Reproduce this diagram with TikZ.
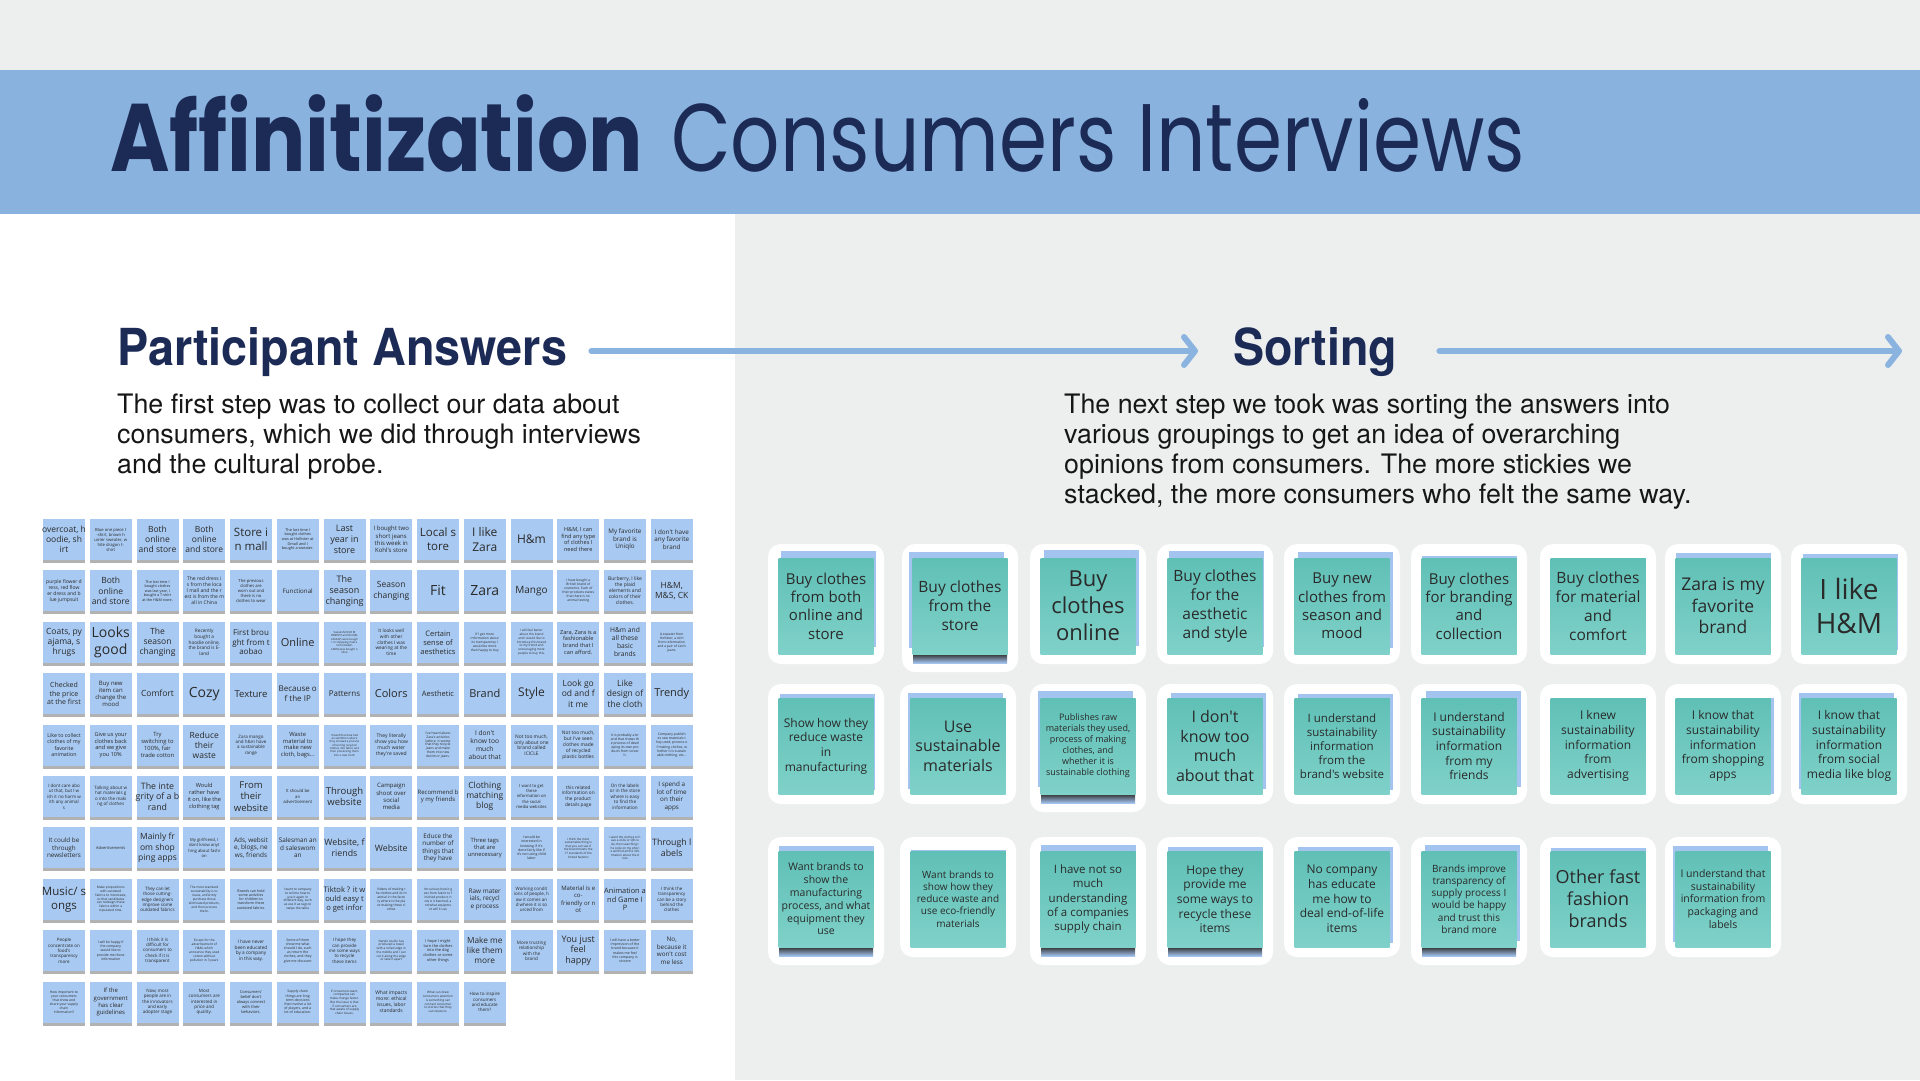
\documentclass[tikz,border=0pt]{standalone}
\usepackage{fontspec}
\usepackage{graphicx}
\usetikzlibrary{arrows.meta,shadows,calc}
\newfontfamily\stickyfont{Open Sans}
\newfontfamily\titlefont{Poppins}
\newfontfamily\headfont{TeX Gyre Heros}
\definecolor{bggray}{HTML}{EDEFEF}
\definecolor{band}{HTML}{8AB2DE}
\definecolor{navy}{HTML}{1C2A56}
\definecolor{arrowblue}{HTML}{8BB3DF}
\definecolor{gridblue}{HTML}{A8C9F1}
\definecolor{behindblue}{HTML}{A4C4F0}
\definecolor{greentop}{HTML}{60C0B6}
\definecolor{greenbot}{HTML}{7FD1C9}
\definecolor{notetext}{HTML}{2A2A2A}
\definecolor{bodytext}{HTML}{161616}
\tikzset{
  gnote/.style={rectangle, fill=gridblue, minimum width=42pt, minimum height=41pt, inner sep=0pt,
    drop shadow={shadow xshift=0pt, shadow yshift=-3pt, opacity=0.3, fill=black}},
  gtext/.style={inner sep=0pt, align=center, text=notetext},
  bnote/.style={rectangle, fill=behindblue, minimum width=95pt, minimum height=96pt, inner sep=0pt},
  snote/.style={rectangle, top color=greentop, bottom color=greenbot, draw=none, minimum width=95pt, minimum height=96pt, inner sep=0pt},
  stext/.style={inner sep=0pt, align=center, text=notetext},
  headline/.style={anchor=base west, inner sep=0pt, text=navy},
  bodyline/.style={anchor=base west, inner sep=0pt, text=bodytext, font=\headfont\fontsize{26.8}{30}\selectfont},
  flowarrow/.style={draw=arrowblue, line width=6pt, line cap=round, line join=round,
    -{Straight Barb[length=11pt, width=28pt, line cap=round, line join=round]}}
}
\newcommand{\gridnote}[4]{%
  \pgfmathsetmacro{\gx}{64+(#1-1)*46.75}%
  \pgfmathsetmacro{\gy}{539.5+(#2-1)*51.4}%
  \node[gnote] (g#2-#1) at (\gx,\gy) {};
  \node[gtext, font=\stickyfont\fontsize{#3}{\fpeval{1.2*#3}}\selectfont] (g#2-#1t) at (g#2-#1.center) {#4};
}
\newcommand{\sortnote}[8]{%
  \fill[white, rounded corners=13pt] ({#2-58},{#3-62}) rectangle ({#2+58},{#3+58+#6*8});
  \node[bnote] (#1b) at ({#2+(#4)},{#3+(#5)}) {};
  \ifnum#6=1 \fill[top color=black!80, bottom color=behindblue] ({#2-47},{#3+48}) rectangle ({#2+47},{#3+57}); \fi
  \node[snote] (#1) at (#2,#3) {};
  \node[stext, font=\stickyfont\fontsize{#7}{\fpeval{1.22*#7}}\selectfont] (#1t) at (#1.center) {#8};
}
\begin{document}
\begin{tikzpicture}[x=1pt, y=-1pt]
\useasboundingbox (0,0) rectangle (1920,1080);
% backgrounds
\fill[bggray] (0,0) rectangle (1920,1080);
\fill[white] (0,214) rectangle (735,1080);
\fill[band] (0,70) rectangle (1920,214);
% title
\node[headline] (t1) at (110,171) {\resizebox{533pt}{\height}{\titlefont\bfseries\fontsize{96}{100}\selectfont Affinitization}};
\node[headline] (t2) at (671,171) {\resizebox{854pt}{\height}{\titlefont\fontsize{96}{100}\selectfont Consumers Interviews}};
% headings
\node[headline] (pa) at (117,365) {\resizebox{450pt}{\height}{\headfont\bfseries\fontsize{51}{55}\selectfont Participant Answers}};
\node[headline] (so) at (1233,365) {\resizebox{164pt}{\height}{\headfont\bfseries\fontsize{51}{55}\selectfont Sorting}};
\coordinate (a1s) at ($(pa.base east)+(24,-14)$);
\coordinate (a1e) at ($(so.base west)+(-35,-14)$);
\coordinate (a2s) at ($(so.base east)+(42,-14)$);
\coordinate (a2e) at (1902,351);
\draw[flowarrow] (a1s) -- (a1e);
\draw[flowarrow] (a2s) -- (a2e);
% body text
\node[bodyline] (pb1) at (117,413) {The first step was to collect our data about};
\node[bodyline] (pb2) at (117,443) {consumers, which we did through interviews};
\node[bodyline] (pb3) at (117,473) {and the cultural probe.};
\node[bodyline] (sb1) at (1064,413) {The next step we took was sorting the answers into};
\node[bodyline] (sb2) at (1064,443) {various groupings to get an idea of overarching};
\node[bodyline] (sb3) at (1064,473) {opinions from consumers. The more stickies we};
\node[bodyline] (sb4) at (1064,503) {stacked, the more consumers who felt the same way.};
% ===== grid of participant answers =====
% row 1
\gridnote{1}{1}{8.5}{overcoat, h\\oodie, sh\\irt}
\gridnote{2}{1}{4.2}{Blue one piece t\\-shirt, brown h\\unter sweater, w\\hite dragon t-\\shirt}
\gridnote{3}{1}{8.5}{Both\\online\\and store}
\gridnote{4}{1}{8.5}{Both\\online\\and store}
\gridnote{5}{1}{11.5}{Store i\\n mall}
\gridnote{6}{1}{3.8}{The last time I\\bought clothes\\was at Hollister at\\Dmall and I\\bought a sweater.}
\gridnote{7}{1}{9}{Last\\year in\\store}
\gridnote{8}{1}{6}{I bought two\\short jeans\\this week in\\Kohl's store}
\gridnote{9}{1}{11.5}{Local s\\tore}
\gridnote{10}{1}{12}{I like\\Zara}
\gridnote{11}{1}{12}{H\&m}
\gridnote{12}{1}{5.6}{H\&M, I can\\find any type\\of clothes I\\need there}
\gridnote{13}{1}{6.3}{My favorite\\brand is\\Uniqlo}
\gridnote{14}{1}{6.3}{I don't have\\any favorite\\brand}
% row 2
\gridnote{1}{2}{5}{purple flower d\\ress, red flow\\er dress and b\\lue jumpsuit}
\gridnote{2}{2}{8.5}{Both\\online\\and store}
\gridnote{3}{2}{3.7}{The last time I\\bought clothes\\was last year, I\\bought a T-shirt\\at the H\&M store.}
\gridnote{4}{2}{5}{The red dress i\\s from the loca\\l mall and the r\\est is from the m\\all in China}
\gridnote{5}{2}{4.2}{The previous\\clothes are\\worn out and\\there is no\\clothes to wear}
\gridnote{6}{2}{6.2}{Functional}
\gridnote{7}{2}{9}{The\\season\\changing}
\gridnote{8}{2}{8.5}{Season\\changing}
\gridnote{9}{2}{14}{Fit}
\gridnote{10}{2}{14}{Zara}
\gridnote{11}{2}{10}{Mango}
\gridnote{12}{2}{3.3}{I have bought a\\British brand of\\cosmetics. Each of\\their products states\\that there is no\\animal testing}
\gridnote{13}{2}{5}{Burberry, I like\\the plaid\\elements and\\colors of their\\clothes.}
\gridnote{14}{2}{8.5}{H\&M,\\M\&S, CK}
% row 3
\gridnote{1}{3}{8.5}{Coats, py\\ajama, s\\hrugs}
\gridnote{2}{3}{14}{Looks\\good}
\gridnote{3}{3}{8.5}{The\\season\\changing}
\gridnote{4}{3}{4.7}{Recently\\bought a\\hoodie online,\\the brand is E-\\land}
\gridnote{5}{3}{8}{First brou\\ght from t\\aobao}
\gridnote{6}{3}{11}{Online}
\gridnote{7}{3}{2.8}{Sweatshirt(UR M\\OMENT) and shirt(EL\\LASSAY) were bough\\t in shopping mall a\\nd hoodie(E-\\LAND) was bought o\\nline}
\gridnote{8}{3}{4.7}{It looks well\\with other\\clothes I was\\wearing at the\\time}
\gridnote{9}{3}{7.5}{Certain\\sense of\\aesthetics}
\gridnote{10}{3}{3.3}{If I get more\\information about\\its transparency I\\would be more\\than happy to buy}
\gridnote{11}{3}{3.1}{I will feel better\\about this brand\\and I would like to\\introduce this brand\\to my friend and\\encouraging more\\people to buy this.}
\gridnote{12}{3}{5.6}{Zara, Zara is a\\fashionable\\brand that I\\can afford.}
\gridnote{13}{3}{6.7}{H\&m and\\all these\\basic\\brands}
\gridnote{14}{3}{3.3}{A sweater from\\Hollister, a skirt\\from reformation\\and a pair of Levi's\\jeans.}
% row 4
\gridnote{1}{4}{7}{Checked\\the price\\at the first}
\gridnote{2}{4}{6}{Buy new\\item can\\change the\\mood}
\gridnote{3}{4}{8.5}{Comfort}
\gridnote{4}{4}{14}{Cozy}
\gridnote{5}{4}{9.5}{Texture}
\gridnote{6}{4}{8}{Because o\\f the IP}
\gridnote{7}{4}{8}{Patterns}
\gridnote{8}{4}{11}{Colors}
\gridnote{9}{4}{7.5}{Aesthetic}
\gridnote{10}{4}{11}{Brand}
\gridnote{11}{4}{12}{Style}
\gridnote{12}{4}{8.5}{Look go\\od and f\\it me}
\gridnote{13}{4}{8.5}{Like\\design of\\the cloth}
\gridnote{14}{4}{11}{Trendy}
% row 5
\gridnote{1}{5}{5.3}{Like to collect\\clothes of my\\favorite\\animation}
\gridnote{2}{5}{5.6}{Give us your\\clothes back\\and we give\\you 10\%}
\gridnote{3}{5}{5.8}{Try\\switching to\\100\%, fair\\trade cotton}
\gridnote{4}{5}{8.5}{Reduce\\their\\waste}
\gridnote{5}{5}{4.5}{Zara mango\\and h\&m have\\a sustainable\\range}
\gridnote{6}{5}{5.8}{Waste\\material to\\make new\\cloth, bags...}
\gridnote{7}{5}{2.8}{I heard that Zara had\\an exhibition where\\they showed a process\\of turning recycled\\clothes into fabric and\\then processing them\\into a new cloth.}
\gridnote{8}{5}{5}{They literally\\show you how\\much water\\they're saved}
\gridnote{9}{5}{3.3}{I've heard about\\Zara's activities\\before. It seems\\that they recycle\\jeans and make\\them into new\\denim or jeans.}
\gridnote{10}{5}{6.6}{I don't\\know too\\much\\about that}
\gridnote{11}{5}{4.9}{Not too much,\\only about one\\brand called\\ICICLE}
\gridnote{12}{5}{4.9}{Not too much,\\but I've seen\\clothes made\\of recycled\\plastic bottles}
\gridnote{13}{5}{3.4}{It is probably a br\\and that shows th\\e process of devel\\oping its own pro\\ducts from scratc\\h.}
\gridnote{14}{5}{3.4}{Company publish\\es raw materials t\\hey used, process o\\f making clothes, w\\hether it is sustain\\able clothing, etc...}
% row 6
\gridnote{1}{6}{4.5}{I dont care abo\\ut that,  but I w\\ish it no harm w\\ith any animal\\s}
\gridnote{2}{6}{4.5}{Talking about w\\hat materials g\\o into the maki\\ng of clothes}
\gridnote{3}{6}{8.8}{The inte\\grity of a b\\rand}
\gridnote{4}{6}{5.6}{Would\\rather have\\it on, like the\\clothing tag}
\gridnote{5}{6}{9.5}{From\\their\\website}
\gridnote{6}{6}{4.3}{It should be\\an\\advertisement}
\gridnote{7}{6}{9.5}{Through\\website}
\gridnote{8}{6}{6}{Campaign\\shoot over\\social\\media}
\gridnote{9}{6}{6}{Recommend b\\y my friends}
\gridnote{10}{6}{8.5}{Clothing\\matching\\blog}
\gridnote{11}{6}{4.2}{I want to get\\these\\information on\\the social\\media websites}
\gridnote{12}{6}{4.7}{this related\\information on\\the product\\details page}
\gridnote{13}{6}{4.6}{On the labels\\or in the store\\where is easy\\to find the\\information}
\gridnote{14}{6}{6.3}{I spend a\\lot of time\\on their\\apps}
% row 7
\gridnote{1}{7}{6.3}{It could be\\through\\newsletters}
\gridnote{2}{7}{4}{Advertisements}
\gridnote{3}{7}{8.5}{Mainly fr\\om shop\\ping apps}
\gridnote{4}{7}{4.2}{My girlfriend, I\\dont know anyt\\hing about fashi\\on}
\gridnote{5}{7}{6.4}{Ads, websit\\e, blogs, ne\\ws, friends}
\gridnote{6}{7}{6.4}{Salesman an\\d saleswom\\an}
\gridnote{7}{7}{8.8}{Website, f\\riends}
\gridnote{8}{7}{8.8}{Website}
\gridnote{9}{7}{6.3}{Educe the\\number of\\things that\\they have}
\gridnote{10}{7}{5.8}{Three tags\\that are\\unnecessary}
\gridnote{11}{7}{3.5}{I would be\\interested in\\knowing if it's\\done fairly like if\\it's not using child\\labor}
\gridnote{12}{7}{3}{I think the most\\sustainable thing is\\that you can see if\\the brand meets the\\17 standards of the\\United Nations}
\gridnote{13}{7}{3}{I want the clothes to h\\ave a code or QR co\\de, then searching t\\he code on my phon\\e will find all the info\\rmation about the d\\ress}
\gridnote{14}{7}{8.8}{Through l\\abels}
% row 8
\gridnote{1}{8}{11.5}{Music/ s\\ongs}
\gridnote{2}{8}{3.2}{Make propositions\\with outdated\\fabrics to interviews,\\so that candidates\\can redesign these\\fabrics within a\\stipulated time.}
\gridnote{3}{8}{4.5}{They can let\\those cutting-\\edge designers\\improve some\\outdated fabrics}
\gridnote{4}{8}{3.2}{The most standard\\sustainability is to\\reuse, uniformly\\purchase those\\eliminated products,\\and then process\\them.}
\gridnote{5}{8}{3.6}{Brands can hold\\some activities\\for children to\\transform these\\outdated fabrics.}
\gridnote{6}{8}{3.2}{I want to company\\to tell me how to\\use it again in\\different way, such\\as use it as rags to\\swipe the table}
\gridnote{7}{8}{7.6}{Tiktok ? it w\\ould easy t\\o get infor}
\gridnote{8}{8}{3.3}{Videos of making t\\he clothes and its m\\aterial in the facto\\ry where is the pla\\ce making these cl\\othes}
\gridnote{9}{8}{3.2}{Im curious how it g\\oes from fabric to f\\inished product, h\\ow is it batched, a\\nd what equipme\\nt will it use}
\gridnote{10}{8}{6.4}{Raw mater\\ials, recycl\\e process}
\gridnote{11}{8}{4.5}{Working condit\\ions of people, h\\ow it comes an\\d where it is so\\urced from}
\gridnote{12}{8}{6}{Material is e\\co-\\friendly or n\\ot}
\gridnote{13}{8}{7.4}{Animation a\\nd Game I\\P}
\gridnote{14}{8}{4.5}{I think the\\transparency\\can be a story\\behind the\\clothes}
% row 9
\gridnote{1}{9}{4.5}{People\\concentrate on\\food's\\transparency\\more}
\gridnote{2}{9}{3.4}{I will be happy if\\the company\\would like to\\provide me those\\information}
\gridnote{3}{9}{4.5}{I think it is\\difficult for\\consumers to\\check if it is\\transparent}
\gridnote{4}{9}{3.2}{Except for the\\advertisement of\\H\&M, which\\announce they used\\cotton without\\pollution in 3 years}
\gridnote{5}{9}{4.7}{I have never\\been educated\\by a company\\in this way.}
\gridnote{6}{9}{3.5}{Some of them\\show me what\\should I do, such\\as return the\\clothes, and they\\give me discount}
\gridnote{7}{9}{4.5}{I hope they\\can provide\\me some ways\\to recycle\\these items}
\gridnote{8}{9}{3.1}{Nendo studio has\\produced a towel\\with a rolled edge in\\the middle and I can\\cut it along the edge\\or take it apart}
\gridnote{9}{9}{3.9}{I hope I might\\turn the clothes\\into the dog\\clothes or some\\other things}
\gridnote{10}{9}{8.3}{Make me\\like them\\more}
\gridnote{11}{9}{4.6}{More trusting\\relationship\\with the\\brand}
\gridnote{12}{9}{9}{You just\\feel\\happy}
\gridnote{13}{9}{3.5}{I will have a better\\impression of the\\brand because it\\makes me feel\\this company is\\sincere}
\gridnote{14}{9}{6.3}{No,\\because it\\won't cost\\me less}
% row 10
\gridnote{1}{10}{3.4}{How important to\\your consumers\\that show and\\share your supply\\chain\\information?}
\gridnote{2}{10}{6}{If the\\government\\has clear\\guidelines}
\gridnote{3}{10}{4.5}{Now, most\\people are in\\the innovators\\and early\\adopter stage}
\gridnote{4}{10}{4.5}{Most\\consumers are\\interested in\\price and\\quality.}
\gridnote{5}{10}{4}{Consumers'\\belief don't\\always connect\\with their\\behaviors.}
\gridnote{6}{10}{3.5}{Supply chain\\things are long\\term decisions\\that involve a lot\\of players, and a\\lot of education.}
\gridnote{7}{10}{3.1}{If consumers want,\\companies can\\make change faster.\\But the issue is that\\if consumers are\\that aware of supply\\chain issues.}
\gridnote{8}{10}{5}{What impacts\\more: ethical\\issues, labor\\standards}
\gridnote{9}{10}{3.1}{What can draw\\consumers attention\\is something can\\connect consumer\\to stories that they\\can relate to.}
\gridnote{10}{10}{4.5}{How to inspire\\consumers\\and educate\\them?}
% ===== sorted stacks =====
% row 1
\sortnote{s1-1}{826}{606}{2}{-7}{0}{15}{Buy clothes\\from both\\online and\\store}
\sortnote{s1-2}{960}{606}{-4}{-6}{1}{15.5}{Buy clothes\\from the\\store}
\sortnote{s1-3}{1088}{606}{3}{-8}{0}{22}{Buy\\clothes\\online}
\sortnote{s1-4}{1215}{606}{1}{-7}{0}{15.5}{Buy clothes\\for the\\aesthetic\\and style}
\sortnote{s1-5}{1342}{606}{3}{-6}{0}{15}{Buy new\\clothes from\\season and\\mood}
\sortnote{s1-6}{1469}{606}{0}{-2}{0}{15}{Buy clothes\\for branding\\and\\collection}
\sortnote{s1-7}{1598}{606}{0}{0}{0}{15.5}{Buy clothes\\for material\\and\\comfort}
\sortnote{s1-8}{1723}{606}{0}{-5}{0}{17.5}{Zara is my\\favorite\\brand}
\sortnote{s1-9}{1849}{606}{1}{-4}{0}{28}{I like\\H\&M}
% row 2
\sortnote{s2-1}{826}{746}{1}{-4}{0}{12}{Show how they\\reduce waste\\in\\manufacturing}
\sortnote{s2-2}{958}{746}{-3}{-5}{0}{16}{Use\\sustainable\\materials}
\sortnote{s2-3}{1088}{746}{-3}{-7}{1}{9}{Publishes raw\\materials they used,\\process of making\\clothes, and\\whether it is\\sustainable clothing}
\sortnote{s2-4}{1215}{746}{3}{-5}{0}{16}{I don't\\know too\\much\\about that}
\sortnote{s2-5}{1342}{746}{3}{-4}{0}{11.5}{I understand\\sustainability\\information\\from the\\brand's website}
\sortnote{s2-6}{1469}{746}{4}{-7}{0}{12}{I understand\\sustainability\\information\\from my\\friends}
\sortnote{s2-7}{1598}{746}{0}{0}{0}{12}{I knew\\sustainability\\information\\from\\advertising}
\sortnote{s2-8}{1723}{746}{3}{0}{0}{12}{I know that\\sustainability\\information\\from shopping\\apps}
\sortnote{s2-9}{1849}{746}{-3}{-5}{0}{12}{I know that\\sustainability\\information\\from social\\media like blog}
% row 3
\sortnote{s3-1}{826}{899}{0}{-5}{1}{10.5}{Want brands to\\show the\\manufacturing\\process, and what\\equipment they\\use}
\sortnote{s3-2}{958}{899}{0}{-1}{0}{10}{Want brands to\\show how they\\reduce waste and\\use eco-friendly\\materials}
\sortnote{s3-3}{1088}{899}{0}{-6}{1}{11.5}{I have not so\\much\\understanding\\of a companies\\supply chain}
\sortnote{s3-4}{1215}{899}{0}{-4}{1}{12}{Hope they\\provide me\\some ways to\\recycle these\\items}
\sortnote{s3-5}{1342}{899}{3}{-4}{0}{12}{No company\\has educate\\me how to\\deal end-of-life\\items}
\sortnote{s3-6}{1469}{899}{3}{-6}{1}{10}{Brands improve\\transparency of\\supply process I\\would be happy\\and trust this\\brand more}
\sortnote{s3-7}{1598}{899}{0}{-3}{0}{18}{Other fast\\fashion\\brands}
\sortnote{s3-8}{1723}{899}{-3}{-5}{0}{10.5}{I understand that\\sustainability\\information  from\\packaging and\\labels}
\end{tikzpicture}
\end{document}
